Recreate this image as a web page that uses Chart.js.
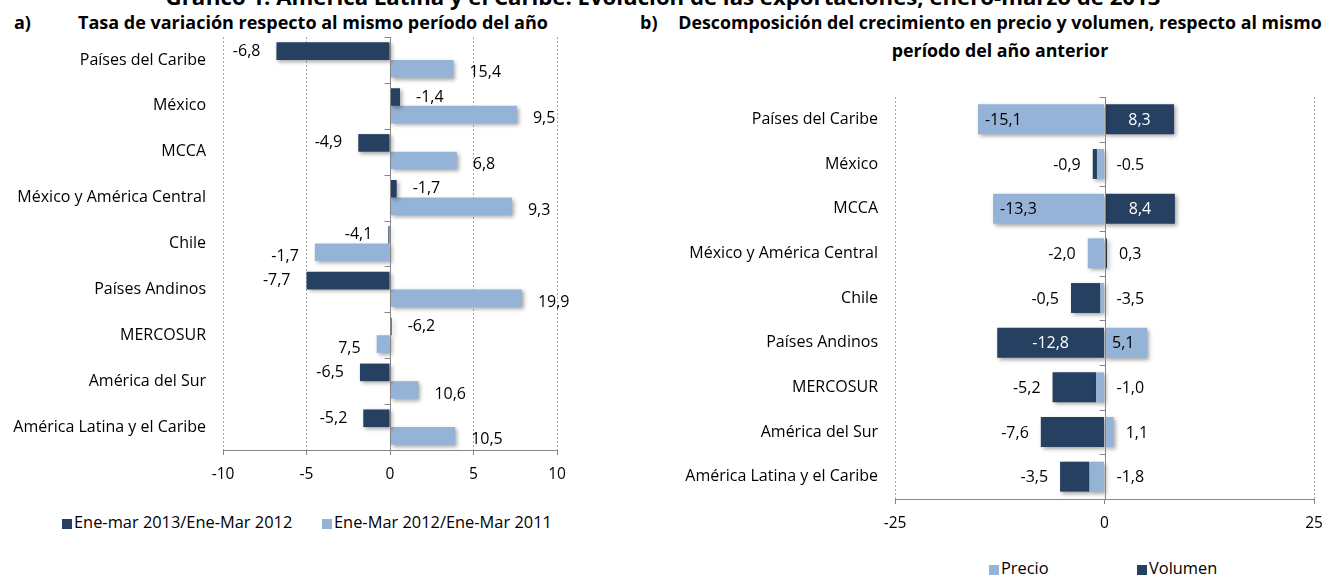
<!DOCTYPE html>
<html>
<head>
<meta charset="utf-8">
<script src="https://cdn.jsdelivr.net/npm/chart.js@4.4.1/dist/chart.umd.min.js"></script>
<style>
  body { margin: 0; width: 1327px; height: 576px; overflow: hidden; background: #fff; position: relative; font-family: "Open Sans", sans-serif; color: #000; }
  .t { position: absolute; white-space: nowrap; font-weight: bold; font-size: 15px; line-height: 28px; }
  .c { transform: translateX(-50%); }
  .leg { position: absolute; white-space: nowrap; font-size: 16.4px; line-height: 18px; }
  .leg i { display: inline-block; width: 10px; height: 10px; margin-right: 2px; vertical-align: -1px; }
  canvas { position: absolute; }
</style>
</head>
<body>
<div class="t c" id="tMain" style="left:663px;top:-15px;line-height:24px;">Gráfico 1: América Latina y el Caribe: Evolución de las exportaciones, enero-marzo de 2013</div>
<div class="t" id="tA0" style="left:14px;top:8px;">a)</div>
<div class="t" id="tA" style="left:78px;top:8px;">Tasa de variación respecto al mismo período del año</div>
<div class="t" id="tB0" style="left:640px;top:8px;">b)</div>
<div class="t c" id="tB1" style="left:1000px;top:8px;">Descomposición del crecimiento en precio y volumen, respecto al mismo</div>
<div class="t c" id="tB2" style="left:1000px;top:36px;">período del año anterior</div>

<canvas id="cA" width="600" height="470" style="left:0;top:30px;"></canvas>
<canvas id="cB" width="667" height="459" style="left:660px;top:90px;"></canvas>

<div class="leg" style="left:62px;top:513px;"><i style="background:#254061"></i>Ene-mar 2013/Ene-Mar 2012</div>
<div class="leg" style="left:322px;top:513px;"><i style="background:#95b3d7"></i>Ene-Mar 2012/Ene-Mar 2011</div>
<div class="leg" style="left:989px;top:559px;"><i style="background:#95b3d7"></i>Precio</div>
<div class="leg" style="left:1137px;top:559px;"><i style="background:#254061"></i>Volumen</div>

<script>
// categorias (mismas en ambos paneles)
const regiones = ['Países del Caribe', 'México', 'MCCA', 'México y América Central', 'Chile',
                  'Países Andinos', 'MERCOSUR', 'América del Sur', 'América Latina y el Caribe'];

// panel a) largo de las barras
const eneMar13 = [-6.8, 0.6, -1.9, 0.4, -0.1, -5.0, 0.1, -1.8, -1.6];
const eneMar12 = [3.8, 7.6, 4.0, 7.3, -4.5, 7.9, -0.8, 1.7, 3.9];
// panel a) etiquetas tal como aparecen
const etiqMar13 = ['-6,8', '-1,4', '-4,9', '-1,7', '-4,1', '-7,7', '-6,2', '-6,5', '-5,2'];
const etiqMar12 = ['15,4', '9,5', '6,8', '9,3', '-1,7', '19,9', '7,5', '10,6', '10,5'];
const ticksA = [-10, -5, 0, 5, 10];

// panel b) precio y volumen
const precio = [-15.1, -0.9, -13.3, -2.0, -0.5, 5.1, -1.0, 1.1, -1.8];
const volumen = [8.3, -0.5, 8.4, 0.3, -3.5, -12.8, -5.2, -7.6, -3.5];
const etiqIzq = ['-15,1', '-0,9', '-13,3', '-2,0', '-0,5', '-12,8', '-5,2', '-7,6', '-3,5'];
const etiqDer = ['8,3', '-0.5', '8,4', '0,3', '-3,5', '5,1', '-1,0', '1,1', '-1,8'];
const ticksB = [-25, 0, 25];

const oscuro = '#254061';
const claro = '#95b3d7';
const gris = '#868686';
const fuente = 'Open Sans';
const tam = 16;

// ajusta el tamaño de los titulos al ancho del original (calibri no esta)
function ajustar(id, ancho) {
    const el = document.getElementById(id);
    const fs = parseFloat(getComputedStyle(el).fontSize);
    const f = fs * ancho / el.getBoundingClientRect().width;
    el.style.fontSize = f + 'px';
    return f;
}
ajustar('tMain', 995);
const fA = ajustar('tA', 470);
document.getElementById('tA0').style.fontSize = fA + 'px';
document.getElementById('tB0').style.fontSize = fA + 'px';
const fB = ajustar('tB1', 644);
document.getElementById('tB2').style.fontSize = fB + 'px';

// linea del eje en cero con marcas entre categorias + sombra de barras
const ejeCero = {
    id: 'ejeCero',
    beforeDatasetsDraw(chart) {
        const ctx = chart.ctx;
        ctx.save();
        ctx.shadowColor = 'rgba(0,0,0,0.35)';
        ctx.shadowBlur = 4;
        ctx.shadowOffsetX = 2;
        ctx.shadowOffsetY = 2;
    },
    afterDatasetsDraw(chart) {
        const ctx = chart.ctx;
        ctx.restore();
        const x0 = Math.round(chart.scales.x.getPixelForValue(0)) + 0.5;
        const y = chart.scales.y;
        ctx.save();
        ctx.strokeStyle = gris;
        ctx.lineWidth = 1;
        ctx.beginPath();
        ctx.moveTo(x0, chart.chartArea.top);
        ctx.lineTo(x0, chart.chartArea.bottom);
        for (let i = 0; i <= regiones.length; i++) {
            const yy = Math.round(y.getPixelForValue(i - 0.5)) + 0.5;
            ctx.moveTo(x0, yy);
            ctx.lineTo(x0 - 6, yy);
        }
        ctx.stroke();
        ctx.restore();
    }
};

const etiquetasA = {
    id: 'etiquetasA',
    afterDatasetsDraw(chart) {
        const ctx = chart.ctx;
        ctx.save();
        ctx.font = tam + 'px "' + fuente + '"';
        ctx.fillStyle = '#000';
        ctx.textBaseline = 'middle';
        chart.data.datasets.forEach((ds, di) => {
            chart.getDatasetMeta(di).data.forEach((el, i) => {
                const neg = el.x < el.base;
                ctx.textAlign = neg ? 'right' : 'left';
                ctx.fillText(ds.etiquetas[i], el.x + (neg ? -16 : 16), el.y + (di ? 4 : 0));
            });
        });
        ctx.restore();
    }
};

// en b) algunas etiquetas van dentro de la barra
const dentro = [true, false, true, false, false, true, false, false, false];

const etiquetasB = {
    id: 'etiquetasB',
    afterDatasetsDraw(chart) {
        const ctx = chart.ctx;
        const x0 = chart.scales.x.getPixelForValue(0);
        ctx.save();
        ctx.font = tam + 'px "' + fuente + '"';
        ctx.textBaseline = 'middle';
        regiones.forEach((r, i) => {
            const segs = [0, 1].map(di => {
                const el = chart.getDatasetMeta(di).data[i];
                return {di: di, l: Math.min(el.x, el.base), r: Math.max(el.x, el.base), neg: el.x < el.base, y: el.y};
            });
            const yy = segs[0].y + 1;
            const minX = Math.min(segs[0].l, segs[1].l);
            const maxX = Math.max(segs[0].r, segs[1].r, x0);
            const texto = (s, txt) => {
                if (s.di === 0) {
                    ctx.fillStyle = '#000';
                    ctx.textAlign = 'left';
                    ctx.fillText(txt, s.l + 7, yy);
                } else {
                    ctx.fillStyle = '#fff';
                    ctx.textAlign = 'center';
                    ctx.fillText(txt, (s.l + s.r) / 2, yy);
                }
            };
            if (dentro[i]) {
                texto(segs.find(s => s.neg), etiqIzq[i]);
                texto(segs.find(s => !s.neg), etiqDer[i]);
            } else {
                ctx.fillStyle = '#000';
                ctx.textAlign = 'right';
                ctx.fillText(etiqIzq[i], minX - 12, yy);
                ctx.textAlign = 'left';
                ctx.fillText(etiqDer[i], maxX + 12, yy);
            }
        });
        ctx.restore();
    }
};

function ejeX(min, max, lista) {
    return {
        min: min,
        max: max,
        afterBuildTicks: s => { s.ticks = lista.map(v => ({value: v})); },
        afterFit: s => { s.height = 50; s.paddingLeft = 0; s.paddingRight = 0; },
        grid: {
            color: c => (c.tick && c.tick.value === 0) ? 'rgba(0,0,0,0)' : '#a6a6a6',
            tickColor: gris,
            tickLength: 5
        },
        border: {display: true, color: gris, dash: [2, 2]},
        ticks: {color: '#000', font: {family: fuente, size: 15.5}, padding: 10, maxRotation: 0}
    };
}

function ejeY(ancho) {
    return {
        afterFit: s => { s.width = ancho; s.paddingTop = 0; s.paddingBottom = 0; },
        grid: {display: false, drawTicks: false},
        border: {display: false},
        ticks: {color: '#000', font: {family: fuente, size: tam}, padding: 17, autoSkip: false}
    };
}

new Chart(document.getElementById('cA'), {
    type: 'bar',
    data: {
        labels: regiones,
        datasets: [
            {label: 'Ene-mar 2013/Ene-Mar 2012', data: eneMar13, backgroundColor: oscuro, etiquetas: etiqMar13},
            {label: 'Ene-Mar 2012/Ene-Mar 2011', data: eneMar12, backgroundColor: claro, etiquetas: etiqMar12}
        ]
    },
    options: {
        indexAxis: 'y',
        responsive: false,
        animation: false,
        categoryPercentage: 0.767,
        barPercentage: 1,
        layout: {padding: {top: 7, right: 43, bottom: 0, left: 0}},
        scales: {x: ejeX(-10, 10, ticksA), y: ejeY(223)},
        plugins: {legend: {display: false}, tooltip: {enabled: false}}
    },
    plugins: [ejeCero, etiquetasA]
});

new Chart(document.getElementById('cB'), {
    type: 'bar',
    data: {
        labels: regiones,
        datasets: [
            {label: 'Precio', data: precio, backgroundColor: claro},
            {label: 'Volumen', data: volumen, backgroundColor: oscuro}
        ]
    },
    options: {
        indexAxis: 'y',
        responsive: false,
        animation: false,
        categoryPercentage: 0.67,
        barPercentage: 1,
        layout: {padding: {top: 7, right: 13, bottom: 0, left: 0}},
        scales: {
            x: Object.assign(ejeX(-25, 25, ticksB), {stacked: true}),
            y: Object.assign(ejeY(235), {stacked: true})
        },
        plugins: {legend: {display: false}, tooltip: {enabled: false}}
    },
    plugins: [ejeCero, etiquetasB]
});
</script>
</body>
</html>
